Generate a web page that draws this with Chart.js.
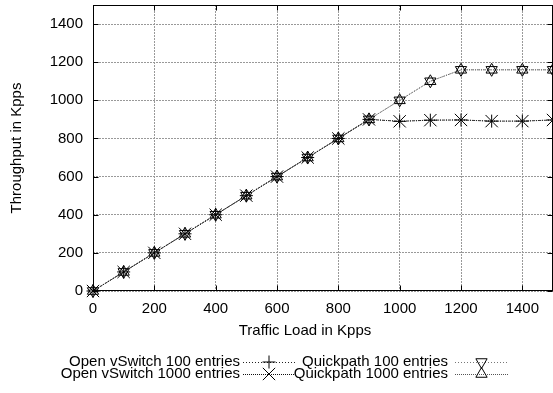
<!DOCTYPE html>
<html>
<head>
<meta charset="utf-8">
<script src="https://cdn.jsdelivr.net/npm/chart.js@4"></script>
<style>
  html, body { margin: 0; padding: 0; background: #fff; }
  #wrap { width: 553px; height: 393px; }
</style>
</head>
<body>
<div id="wrap"><canvas id="c" width="553" height="393"></canvas></div>
<script>
// Offered traffic load (Kpps)
const loads = [0, 100, 200, 300, 400, 500, 600, 700, 800, 900, 1000, 1100, 1200, 1300, 1400, 1500];
// Measured throughput (Kpps)
const ovs100  = [0, 100, 200, 300, 400, 500, 600, 700, 800, 900, 890, 896, 897, 891, 891, 897];
const ovs1000 = [0, 100, 200, 300, 400, 500, 600, 700, 800, 900, 890, 896, 897, 891, 891, 897];
const qp100   = [0, 100, 200, 300, 400, 500, 600, 700, 800, 900, 1000, 1100, 1160, 1160, 1160, 1160];
const qp1000  = [0, 100, 200, 300, 400, 500, 600, 700, 800, 900, 1000, 1100, 1160, 1160, 1160, 1160];
const seriesNames = ['Open vSwitch 100 entries', 'Open vSwitch 1000 entries', 'Quickpath 100 entries', 'Quickpath 1000 entries'];
const xTickValues = [0, 200, 400, 600, 800, 1000, 1200, 1400];
const yTickValues = [0, 200, 400, 600, 800, 1000, 1200, 1400];
const xTitle = 'Traffic Load in Kpps';
const yTitle = 'Throughput in Kpps';

const FONT = '"Liberation Sans", Arial, Helvetica, sans-serif';
const FONT_SIZE = 15;

const styles = [
  { pointStyle: 'cross',    radius: 6.5, rotation: 0,   dash: [1, 2], color: '#222' },
  { pointStyle: 'crossRot', radius: 8.7, rotation: 0,   dash: [1, 1], color: '#111' },
  { pointStyle: 'triangle', radius: 6.5, rotation: 180, dash: [1, 2], color: '#777' },
  { pointStyle: 'triangle', radius: 6.5, rotation: 0,   dash: [1, 1], color: '#555' }
];

function toPoints(vals) { return loads.map((x, i) => ({ x: x, y: vals[i] })); }

const datasets = [ovs100, ovs1000, qp100, qp1000].map((vals, i) => ({
  label: seriesNames[i],
  data: toPoints(vals),
  borderColor: styles[i].color,
  borderWidth: 1,
  borderDash: styles[i].dash,
  pointStyle: styles[i].pointStyle,
  pointRadius: styles[i].radius,
  pointHoverRadius: styles[i].radius,
  pointRotation: styles[i].rotation,
  pointBorderColor: '#000',
  pointBackgroundColor: 'rgba(0,0,0,0)',
  pointBorderWidth: 1,
  fill: false,
  tension: 0,
  clip: false
}));

function drawMarker(ctx, style, x, y) {
  const r = style.radius;
  ctx.save();
  ctx.strokeStyle = '#000';
  ctx.lineWidth = 1;
  ctx.setLineDash([]);
  ctx.beginPath();
  if (style.pointStyle === 'cross') {
    ctx.moveTo(x - r, y); ctx.lineTo(x + r, y);
    ctx.moveTo(x, y - r); ctx.lineTo(x, y + r);
  } else if (style.pointStyle === 'crossRot') {
    const o = r * Math.SQRT1_2;
    ctx.moveTo(x - o, y - o); ctx.lineTo(x + o, y + o);
    ctx.moveTo(x - o, y + o); ctx.lineTo(x + o, y - o);
  } else {
    let a = style.rotation * Math.PI / 180;
    ctx.moveTo(x + Math.sin(a) * r, y - Math.cos(a) * r);
    a += 2 * Math.PI / 3;
    ctx.lineTo(x + Math.sin(a) * r, y - Math.cos(a) * r);
    a += 2 * Math.PI / 3;
    ctx.lineTo(x + Math.sin(a) * r, y - Math.cos(a) * r);
    ctx.closePath();
  }
  ctx.stroke();
  ctx.restore();
}

// Plot frame, inward tick marks on all four sides, x-axis caption and the two-column key
const framePlugin = {
  id: 'frameAndKey',
  afterDraw(chart) {
    const { ctx, chartArea: a, scales } = chart;
    ctx.save();
    ctx.strokeStyle = '#000';
    ctx.lineWidth = 1;
    ctx.setLineDash([]);
    const L = Math.round(a.left) + 0.5, R = Math.round(a.right) - 0.5;
    const T = Math.round(a.top) + 0.5, B = Math.round(a.bottom) - 0.5;
    ctx.strokeRect(L, T, R - L, B - T);
    ctx.beginPath();
    xTickValues.forEach(v => {
      const px = Math.round(scales.x.getPixelForValue(v)) + 0.5;
      ctx.moveTo(px, B); ctx.lineTo(px, B - 5);
      ctx.moveTo(px, T); ctx.lineTo(px, T + 5);
    });
    yTickValues.forEach(v => {
      const py = Math.round(scales.y.getPixelForValue(v)) + 0.5;
      ctx.moveTo(L, py); ctx.lineTo(L + 5, py);
      ctx.moveTo(R, py); ctx.lineTo(R - 5, py);
    });
    ctx.stroke();

    ctx.font = FONT_SIZE + 'px ' + FONT;
    ctx.fillStyle = '#000';
    ctx.textBaseline = 'middle';

    // x-axis caption
    ctx.textAlign = 'center';
    ctx.fillText(xTitle, 305, 331);

    // key
    const cols = [{ textRight: 240, x0: 243, x1: 295 }, { textRight: 448, x0: 455, x1: 508 }];
    const rows = [362, 374];
    const order = [[0, 0, 0], [1, 0, 1], [2, 1, 0], [3, 1, 1]];
    ctx.textAlign = 'right';
    order.forEach(([si, ci, ri]) => {
      const c = cols[ci], y = rows[ri];
      ctx.fillText(seriesNames[si], c.textRight, y);
      ctx.save();
      ctx.strokeStyle = styles[si].color;
      ctx.setLineDash(styles[si].dash);
      ctx.beginPath();
      ctx.moveTo(c.x0, y + 0.5); ctx.lineTo(c.x1, y + 0.5);
      ctx.stroke();
      ctx.restore();
      drawMarker(ctx, styles[si], (c.x0 + c.x1) / 2, y);
    });
    ctx.restore();
  }
};

const plainLabel = v => String(v);

new Chart(document.getElementById('c'), {
  type: 'line',
  data: { datasets: datasets },
  plugins: [framePlugin],
  options: {
    responsive: false,
    animation: false,
    events: [],
    layout: { autoPadding: false, padding: { left: 0, right: 0, top: 5, bottom: 53 } },
    plugins: { legend: { display: false }, tooltip: { enabled: false } },
    scales: {
      x: {
        type: 'linear',
        min: 0, max: 1500,
        afterBuildTicks: s => { s.ticks = xTickValues.map(v => ({ value: v })); },
        afterFit: s => { s.height = 49; s.paddingLeft = 0; s.paddingRight = 0; },
        ticks: { font: { family: FONT, size: FONT_SIZE }, color: '#000', padding: 9, maxRotation: 0, callback: plainLabel },
        grid: { color: '#999', drawTicks: false },
        border: { display: false, dash: [2, 1] },
        title: { display: false }
      },
      y: {
        type: 'linear',
        min: 0, max: 1500,
        afterBuildTicks: s => { s.ticks = yTickValues.map(v => ({ value: v })); },
        afterFit: s => { s.width = 93; s.paddingTop = 0; s.paddingBottom = 0; },
        ticks: { font: { family: FONT, size: FONT_SIZE }, color: '#000', padding: 10, callback: plainLabel },
        grid: { color: '#999', drawTicks: false },
        border: { display: false, dash: [2, 1] },
        title: { display: true, text: yTitle, color: '#000', font: { family: FONT, size: FONT_SIZE }, padding: { top: 8, bottom: 0 } }
      }
    }
  }
});
</script>
</body>
</html>
